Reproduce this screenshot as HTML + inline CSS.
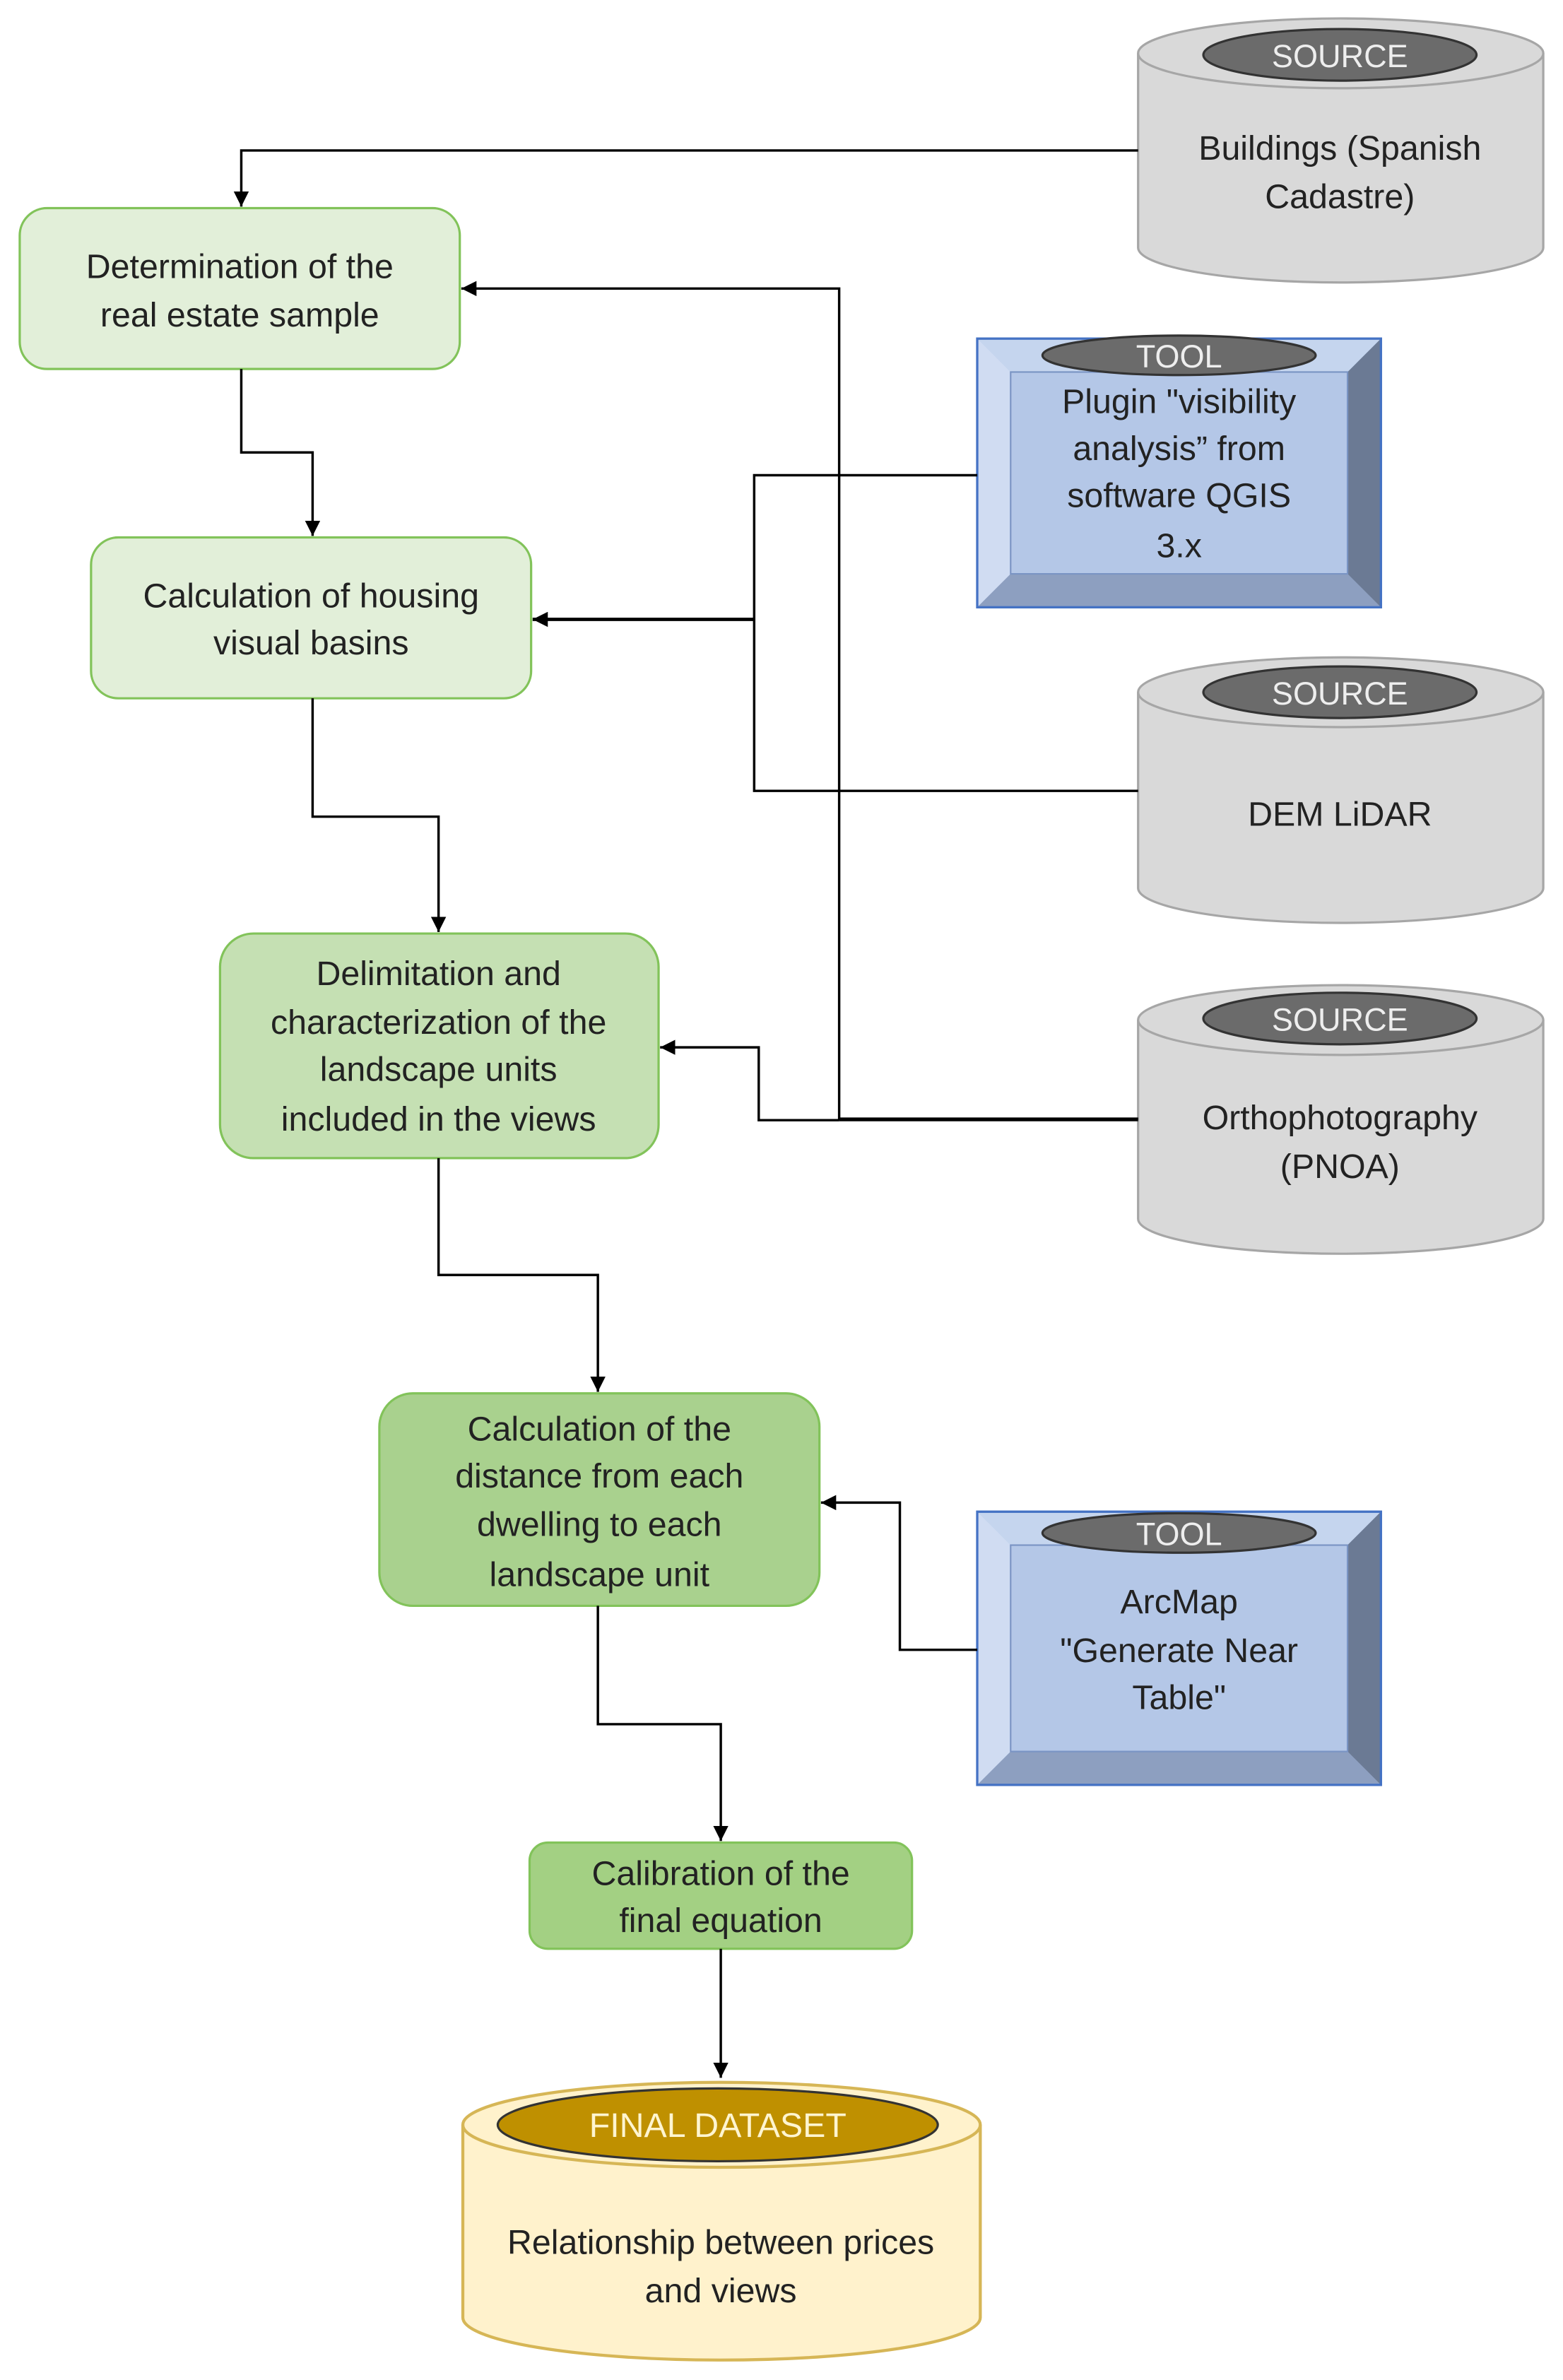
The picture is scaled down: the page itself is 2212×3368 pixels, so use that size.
<!DOCTYPE html>
<html><head><meta charset="utf-8"><style>html,body{margin:0;padding:0;background:#fff}svg{display:block}</style></head>
<body>
<svg xmlns="http://www.w3.org/2000/svg" width="2212" height="3368" viewBox="0 0 1030 1568">
<defs>
<marker id="a" viewBox="0 0 10 10" refX="10" refY="5" markerWidth="10" markerHeight="10" markerUnits="userSpaceOnUse" orient="auto"><path d="M0,0 L10,5 L0,10 z" fill="#000"/></marker>
</defs>
<rect width="1030" height="1568" fill="#fff"/>
<g font-family="Liberation Sans, sans-serif" font-size="22.5" text-anchor="middle" fill="#222">

<g stroke="#a6a6a6" stroke-width="1.5" fill="#d9d9d9">
<path d="M750,35 L750,163 A133.5,23 0 0 0 1017,163 L1017,35"/>
<ellipse cx="883.5" cy="35" rx="133.5" ry="23"/>
<path d="M750,456 L750,585 A133.5,23 0 0 0 1017,585 L1017,456"/>
<ellipse cx="883.5" cy="456" rx="133.5" ry="23"/>
<path d="M750,672 L750,803 A133.5,23 0 0 0 1017,803 L1017,672"/>
<ellipse cx="883.5" cy="672" rx="133.5" ry="23"/>
</g>
<g fill="#6b6b6b" stroke="#333" stroke-width="1.5">
<ellipse cx="883" cy="36" rx="90" ry="17"/>
<ellipse cx="883" cy="456" rx="90" ry="17"/>
<ellipse cx="883" cy="671" rx="90" ry="17"/>
</g>
<g fill="#eee" font-size="21">
<text x="883" y="44">SOURCE</text>
<text x="883" y="464">SOURCE</text>
<text x="883" y="679">SOURCE</text>
</g>
<text x="883" y="105">Buildings (Spanish</text>
<text x="883" y="137">Cadastre)</text>
<text x="883" y="544">DEM LiDAR</text>
<text x="883" y="744">Orthophotography</text>
<text x="883" y="776">(PNOA)</text>

<path d="M305,1400 L305,1527 A170.5,28 0 0 0 646,1527 L646,1400" fill="#fff2cc" stroke="#d6b656" stroke-width="2"/>
<ellipse cx="475.5" cy="1400" rx="170.5" ry="28" fill="#fff2cc" stroke="#d6b656" stroke-width="2"/>
<ellipse cx="473" cy="1400" rx="145" ry="24" fill="#bf9000" stroke="#333" stroke-width="1.5"/>
<text x="473" y="1408" fill="#fff5d0">FINAL DATASET</text>
<text x="475" y="1485">Relationship between prices</text>
<text x="475" y="1517">and views</text>

<g>
<rect x="644" y="223" width="266" height="177" fill="#b4c7e7" stroke="#4472c4" stroke-width="1.5"/>
<polygon points="644,223 910,223 888,245 666,245" fill="#c5d5ee"/>
<polygon points="644,223 666,245 666,378 644,400" fill="#d0dcf2"/>
<polygon points="910,223 910,400 888,378 888,245" fill="#6b7a94"/>
<polygon points="644,400 666,378 888,378 910,400" fill="#8d9fc0"/>
<rect x="666" y="245" width="222" height="133" fill="#b4c7e7" stroke="#7a94c4" stroke-width="1"/>
<rect x="644" y="223" width="266" height="177" fill="none" stroke="#4472c4" stroke-width="1.5"/>
<ellipse cx="777" cy="234" rx="90" ry="13" fill="#6b6b6b" stroke="#333" stroke-width="1.5"/>
<text x="777" y="242" fill="#eee" font-size="21">TOOL</text>
<text x="777" y="272">Plugin "visibility</text>
<text x="777" y="303">analysis” from</text>
<text x="777" y="334">software QGIS</text>
<text x="777" y="367">3.x</text>
</g>
<g>
<rect x="644" y="996" width="266" height="180" fill="#b4c7e7" stroke="#4472c4" stroke-width="1.5"/>
<polygon points="644,996 910,996 888,1018 666,1018" fill="#c5d5ee"/>
<polygon points="644,996 666,1018 666,1154 644,1176" fill="#d0dcf2"/>
<polygon points="910,996 910,1176 888,1154 888,1018" fill="#6b7a94"/>
<polygon points="644,1176 666,1154 888,1154 910,1176" fill="#8d9fc0"/>
<rect x="666" y="1018" width="222" height="136" fill="#b4c7e7" stroke="#7a94c4" stroke-width="1"/>
<rect x="644" y="996" width="266" height="180" fill="none" stroke="#4472c4" stroke-width="1.5"/>
<ellipse cx="777" cy="1010" rx="90" ry="13" fill="#6b6b6b" stroke="#333" stroke-width="1.5"/>
<text x="777" y="1018" fill="#eee" font-size="21">TOOL</text>
<text x="777" y="1063">ArcMap</text>
<text x="777" y="1095">"Generate Near</text>
<text x="777" y="1126">Table"</text>
</g>

<g stroke="#82c35a" stroke-width="1.5">
<rect x="13" y="137" width="290" height="106" rx="18" fill="#e2efd9"/>
<rect x="60" y="354" width="290" height="106" rx="18" fill="#e2efd9"/>
<rect x="145" y="615" width="289" height="148" rx="22" fill="#c5e0b3"/>
<rect x="250" y="918" width="290" height="140" rx="22" fill="#a9d18e"/>
<rect x="349" y="1214" width="252" height="70" rx="12" fill="#a3d083"/>
</g>
<text x="158" y="183">Determination of the</text>
<text x="158" y="215">real estate sample</text>
<text x="205" y="400">Calculation of housing</text>
<text x="205" y="431">visual basins</text>
<text x="289" y="649">Delimitation and</text>
<text x="289" y="681">characterization of the</text>
<text x="289" y="712">landscape units</text>
<text x="289" y="745">included in the views</text>
<text x="395" y="949">Calculation of the</text>
<text x="395" y="980">distance from each</text>
<text x="395" y="1012">dwelling to each</text>
<text x="395" y="1045">landscape unit</text>
<text x="475" y="1242">Calibration of the</text>
<text x="475" y="1273">final equation</text>
</g>

<g fill="none" stroke="#000" stroke-width="1.6">
<polyline points="750,99 159,99 159,136" marker-end="url(#a)"/>
<polyline points="159,243 159,298 206,298 206,353" marker-end="url(#a)"/>
<polyline points="644,313 497,313 497,521 750,521"/>
<polyline points="497,408 351,408" marker-end="url(#a)" stroke-width="2.2"/>
<polyline points="206,460 206,538 289,538 289,614" marker-end="url(#a)"/>
<polyline points="750,737 553,737 553,190 304,190" marker-end="url(#a)"/>
<polyline points="553,738 500,738 500,690 435,690" marker-end="url(#a)"/>
<line x1="553" y1="737.5" x2="750" y2="737.5" stroke-width="2.4"/>
<polyline points="289,763 289,840 394,840 394,917" marker-end="url(#a)"/>
<polyline points="644,1087 593,1087 593,990 541,990" marker-end="url(#a)"/>
<polyline points="394,1058 394,1136 475,1136 475,1213" marker-end="url(#a)"/>
<polyline points="475,1284 475,1369" marker-end="url(#a)"/>
</g>
</svg>
</body></html>
